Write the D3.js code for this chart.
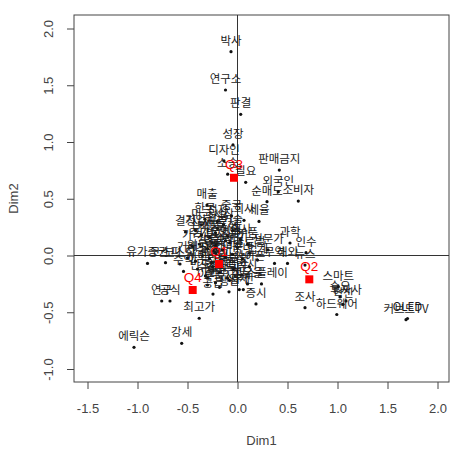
<!DOCTYPE html>
<html>
<head>
<meta charset="utf-8">
<script src="https://cdn.jsdelivr.net/npm/d3@7"></script>
<style>
  body { margin: 0; background: #fff; }
  svg text { font-family: "Liberation Sans", Arial, sans-serif; }
  .word { font-family: "Noto Sans CJK KR", sans-serif; font-size: 11.5px; fill: #1a1a1a; }
</style>
</head>
<body>
<svg id="chart"></svg>
<script>
// word coordinates (Dim1, Dim2)
const words = [
  '박사', '연구소', '판결', '성장', '디자인', '소송', '필요', '판매금지', '외국인', '순매도', '소비자',
  '회사', '세율', '매출', '한국', '전자', '시장', '결정', '기업', '삼성', '애플', '제품', '특허', '기술', '출시',
  '가격', '주가', '상승', '투자', '실적', '영업', '분기', '부품', '전문가', '과학', '인수', '무역', '해외', '뉴스',
  '유가증권', '코스피', '코스닥', '거래', '지수', '외국계', '상장', '종목', '대비', '전년', '국내', '글로벌', '업계',
  '수익', '하락', '반도체', '모바일', '휴대폰', '스마트폰', '태블릿', '갤럭시', '아이폰', '디스플레이', '점유율', '전망', '이익',
  '공급', '생산', '업체', '부진', '증시', '연구', '공식', '최고가', '강세', '에릭슨',
  '스마트', '조사', '하드웨어', '수요', '혁신', '투자사', '커브드TV', 'OLED',
  '매수', '경기', '금리', '수출', '환율', '순이익', '미국', '중국', '부품사', '법원'
];
const dim1 = [
  -0.065, -0.12, 0.032, -0.045, -0.135, -0.098, 0.082, 0.418, 0.408, 0.295, 0.608,
  0.065, 0.215, -0.305, -0.325, -0.20, -0.14, -0.52, -0.42, -0.36, -0.28, -0.22, -0.10, -0.05, 0.03,
  -0.45, -0.38, -0.30, -0.22, -0.15, -0.08, 0.00, 0.10, 0.305, 0.525, 0.685, 0.37, 0.50, 0.675,
  -0.90, -0.72, -0.575, -0.50, -0.42, -0.35, -0.28, -0.22, -0.12, -0.05, 0.05, 0.12, 0.20,
  -0.54, -0.40, -0.32, -0.25, -0.18, -0.10, -0.04, 0.04, 0.12, 0.24, 0.10, -0.22, -0.30,
  -0.245, -0.085, 0.018, 0.058, 0.185, -0.758, -0.675, -0.383, -0.558, -1.035,
  1.008, 0.675, 0.993, 1.025, 1.055, 1.085, 1.685, 1.70,
  -0.26, -0.16, -0.08, -0.30, -0.20, -0.12, -0.36, -0.06, -0.18, -0.24
];
const dim2 = [
  1.796, 1.458, 1.244, 0.974, 0.833, 0.717, 0.645, 0.753, 0.562, 0.474, 0.48,
  0.31, 0.30, 0.445, 0.32, 0.30, 0.27, 0.207, 0.22, 0.18, 0.16, 0.20, 0.17, 0.22, 0.14,
  0.08, 0.10, 0.06, 0.09, 0.05, 0.11, 0.07, 0.10, 0.05, 0.11, 0.025, -0.07, -0.07, -0.084,
  -0.07, -0.063, -0.075, -0.02, -0.05, 0.00, -0.03, 0.02, -0.02, 0.01, -0.03, 0.02, -0.04,
  -0.14, -0.12, -0.18, -0.10, -0.15, -0.20, -0.12, -0.17, -0.10, -0.25, -0.25, -0.24, -0.26,
  -0.34, -0.32, -0.30, -0.30, -0.427, -0.401, -0.401, -0.553, -0.774, -0.809,
  -0.275, -0.46, -0.52, -0.365, -0.43, -0.40, -0.565, -0.555,
  -0.06, -0.08, -0.22, -0.20, 0.24, 0.13, 0.27, 0.35, -0.28, 0.04
];

// quarter (supplementary) points
const quarters = ['Q1', 'Q2', 'Q3', 'Q4'];
const qDim1 = [-0.185, 0.718, -0.035, -0.448];
const qDim2 = [-0.075, -0.21, 0.685, -0.304];

const xTicks = [-1.5, -1.0, -0.5, 0.0, 0.5, 1.0, 1.5, 2.0];
const yTicks = [-1.0, -0.5, 0.0, 0.5, 1.0, 1.5, 2.0];

const W = 458, H = 450;
const plot = { left: 74, right: 449, top: 15, bottom: 382 };

const svg = d3.select('#chart').attr('width', W).attr('height', H);

const x = d3.scaleLinear().domain([-1.635, 2.115]).range([plot.left, plot.right]);
const y = d3.scaleLinear().domain([-1.1145, 2.119]).range([plot.bottom, plot.top]);

const fmt = d => d.toFixed(1);

// x axis
const xAxis = svg.append('g')
  .attr('transform', `translate(0, ${plot.bottom})`)
  .call(d3.axisBottom(x).tickValues(xTicks).tickFormat(fmt).tickSize(7).tickPadding(15));
xAxis.select('.domain').remove();
xAxis.selectAll('line').attr('stroke', '#444');
xAxis.selectAll('text').attr('font-size', 13).attr('fill', '#444')
  .attr('font-family', '"Liberation Sans", Arial, sans-serif');

// y axis, labels rotated like R's default
const yAxis = svg.append('g')
  .attr('transform', `translate(${plot.left}, 0)`)
  .call(d3.axisLeft(y).tickValues(yTicks).tickFormat(fmt).tickSize(7));
yAxis.select('.domain').remove();
yAxis.selectAll('line').attr('stroke', '#444');
yAxis.selectAll('text')
  .attr('font-size', 13).attr('fill', '#444')
  .attr('font-family', '"Liberation Sans", Arial, sans-serif')
  .attr('x', null).attr('dy', null)
  .attr('text-anchor', 'middle')
  .attr('dominant-baseline', 'central')
  .attr('transform', `translate(-26, 0) rotate(-90)`);

// axis titles
svg.append('text')
  .attr('x', (plot.left + plot.right) / 2).attr('y', 445)
  .attr('text-anchor', 'middle').attr('font-size', 13).attr('fill', '#444')
  .text('Dim1');
svg.append('text')
  .attr('transform', `translate(13, ${(plot.top + plot.bottom) / 2}) rotate(-90)`)
  .attr('text-anchor', 'middle').attr('dominant-baseline', 'central')
  .attr('font-size', 13).attr('fill', '#444')
  .text('Dim2');

// box
svg.append('rect')
  .attr('x', plot.left).attr('y', plot.top)
  .attr('width', plot.right - plot.left).attr('height', plot.bottom - plot.top)
  .attr('fill', 'none').attr('stroke', '#444');

// zero lines
svg.append('line')
  .attr('x1', plot.left).attr('x2', plot.right)
  .attr('y1', y(0)).attr('y2', y(0))
  .attr('stroke', '#333');
svg.append('line')
  .attr('x1', x(0)).attr('x2', x(0))
  .attr('y1', plot.top).attr('y2', plot.bottom)
  .attr('stroke', '#333');

const pts = words.map((w, i) => ({ label: w, d1: dim1[i], d2: dim2[i] }));
const qs = quarters.map((q, i) => ({ label: q, d1: qDim1[i], d2: qDim2[i] }));

// word points and labels (text placed above the point, like pos = 3)
svg.append('g').selectAll('circle')
  .data(pts)
  .join('circle')
  .attr('cx', d => x(d.d1)).attr('cy', d => y(d.d2))
  .attr('r', 1.6).attr('fill', '#111');

svg.append('g').selectAll('text')
  .data(pts)
  .join('text')
  .attr('class', 'word')
  .attr('x', d => x(d.d1)).attr('y', d => y(d.d2) - 12)
  .attr('text-anchor', 'middle').attr('dominant-baseline', 'central')
  .text(d => d.label);

// quarter points in red
svg.append('g').selectAll('rect')
  .data(qs)
  .join('rect')
  .attr('x', d => x(d.d1) - 4).attr('y', d => y(d.d2) - 4)
  .attr('width', 8).attr('height', 8)
  .attr('fill', '#f00');

svg.append('g').selectAll('text')
  .data(qs)
  .join('text')
  .attr('x', d => x(d.d1)).attr('y', d => y(d.d2) - 13)
  .attr('text-anchor', 'middle').attr('dominant-baseline', 'central')
  .attr('font-size', 13.5).attr('fill', '#f00')
  .text(d => d.label);
</script>
</body>
</html>
